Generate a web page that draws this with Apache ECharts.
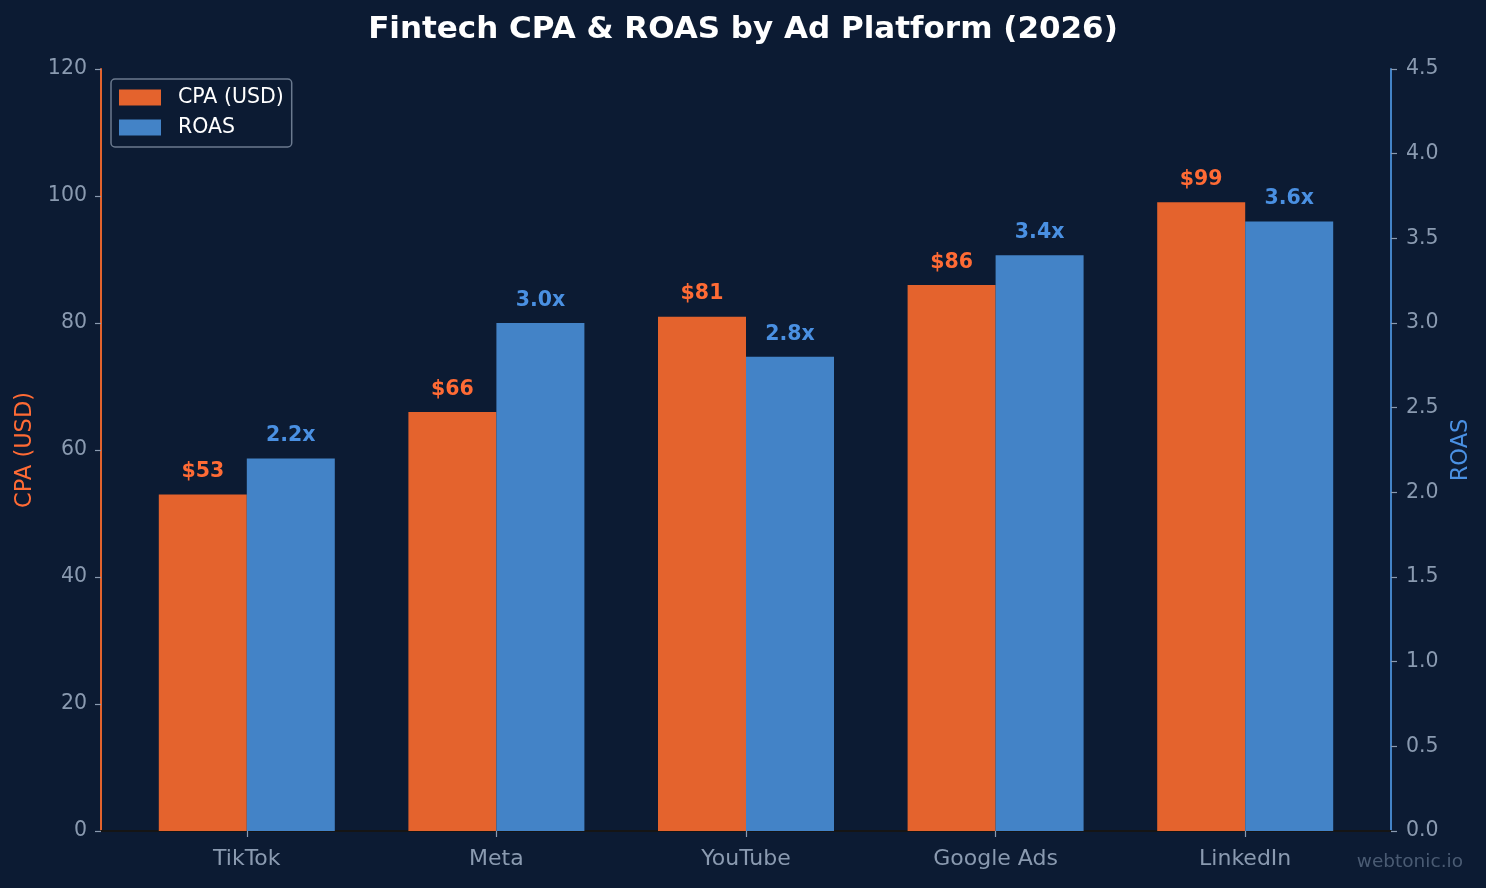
<!DOCTYPE html>
<html><head><meta charset="utf-8">
<script src="https://cdn.jsdelivr.net/npm/echarts@6/dist/echarts.min.js"></script>
<style>html,body{margin:0;padding:0;background:#0c1b33;}#c{width:1486px;height:888px;}</style>
</head><body><div id="c"></div>
<script>
const categories = ['TikTok', 'Meta', 'YouTube', 'Google Ads', 'LinkedIn'];
const cpaValues = [53, 66, 81, 86, 99];
const roasValues = [2.2, 3.0, 2.8, 3.4, 3.6];
const cpaTicks = {min: 0, max: 120, interval: 20};
const roasTicks = {min: 0, max: 4.5, interval: 0.5};

const FONT = 'DejaVu Sans';
const ORANGE = '#e4632d', BLUE = '#4383c7';
const ORANGE_LBL = '#ff6b35', BLUE_LBL = '#4a90e2';
const GRAY = '#8a9ab0';

const chart = echarts.init(document.getElementById('c'));
chart.setOption({
  backgroundColor: '#0c1b33',
  animation: false,
  textStyle: {fontFamily: FONT},
  title: {text: 'Fintech CPA & ROAS by Ad Platform (2026)', left: 'center', top: 9,
    textStyle: {color: '#ffffff', fontSize: 31, fontWeight: 'bold', fontFamily: FONT}},
  graphic: [{type: 'text', right: 23, top: 853, style: {text: 'webtonic.io', fill: '#4a5b73', font: '18.5px "DejaVu Sans"'}}],
  legend: {
    orient: 'vertical', left: 111, top: 79, padding: [8, 8, 9, 8],
    itemWidth: 42, itemHeight: 16, itemGap: 9,
    borderColor: '#6b7a8f', borderWidth: 1.5, borderRadius: 4,
    backgroundColor: '#0c1b33',
    textStyle: {color: '#ffffff', fontSize: 20.5, fontFamily: FONT, padding: [0, 0, 0, 12]},
    data: [{name: 'CPA (USD)', icon: 'rect'}, {name: 'ROAS', icon: 'rect'}]
  },
  grid: [
    {left: 101, right: 95, top: 69, bottom: 57},
    {left: 122, right: 116, top: 69, bottom: 57}
  ],
  xAxis: [
    {type: 'value', gridIndex: 0, min: 0, max: 1, axisLine: {show: true, onZero: false, lineStyle: {color: '#151515', width: 2}},
      axisTick: {show: false}, axisLabel: {show: false}, splitLine: {show: false}},
    {type: 'category', gridIndex: 1, data: categories, axisLine: {show: false},
      axisTick: {show: true, alignWithLabel: true, length: 6, lineStyle: {color: GRAY, width: 1.2}},
      axisLabel: {color: GRAY, fontSize: 22, margin: 17, fontFamily: FONT}, splitLine: {show: false}}
  ],
  yAxis: [
    {type: 'value', gridIndex: 0, position: 'left', ...cpaTicks,
      name: 'CPA (USD)', nameLocation: 'middle', nameGap: 61, nameRotate: 90,
      nameTextStyle: {color: ORANGE_LBL, fontSize: 22.5, fontFamily: FONT},
      axisLine: {show: true, lineStyle: {color: ORANGE, width: 2}},
      axisTick: {show: true, length: 6, lineStyle: {color: GRAY, width: 1.2}},
      axisLabel: {color: GRAY, fontSize: 20.5, margin: 14, fontFamily: FONT, padding: [4, 0, 0, 0]},
      splitLine: {show: false}},
    {type: 'value', gridIndex: 0, position: 'right', ...roasTicks,
      name: 'ROAS', nameLocation: 'middle', nameGap: 59, nameRotate: 90,
      nameTextStyle: {color: BLUE_LBL, fontSize: 22.5, fontFamily: FONT},
      axisLine: {show: true, lineStyle: {color: BLUE, width: 2}},
      axisTick: {show: true, length: 6, lineStyle: {color: GRAY, width: 1.2}},
      axisLabel: {color: GRAY, fontSize: 20.5, margin: 15, fontFamily: FONT, padding: [4, 0, 0, 0], formatter: v => v.toFixed(1)},
      splitLine: {show: false}},
    {type: 'value', gridIndex: 1, ...cpaTicks, show: false},
    {type: 'value', gridIndex: 1, ...roasTicks, show: false}
  ],
  series: [
    {name: 'CPA (USD)', type: 'bar', xAxisIndex: 1, yAxisIndex: 2, data: cpaValues,
      barWidth: 88, barGap: '0%', itemStyle: {color: ORANGE},
      label: {show: true, position: 'top', distance: 12, color: ORANGE_LBL, fontWeight: 'bold', fontSize: 20.5, fontFamily: FONT,
        formatter: p => '$' + p.value}},
    {name: 'ROAS', type: 'bar', xAxisIndex: 1, yAxisIndex: 3, data: roasValues,
      barWidth: 88, barGap: '0%', itemStyle: {color: BLUE},
      label: {show: true, position: 'top', distance: 12, color: BLUE_LBL, fontWeight: 'bold', fontSize: 20.5, fontFamily: FONT,
        formatter: p => p.value.toFixed(1) + 'x'}}
  ]
});
</script></body></html>
